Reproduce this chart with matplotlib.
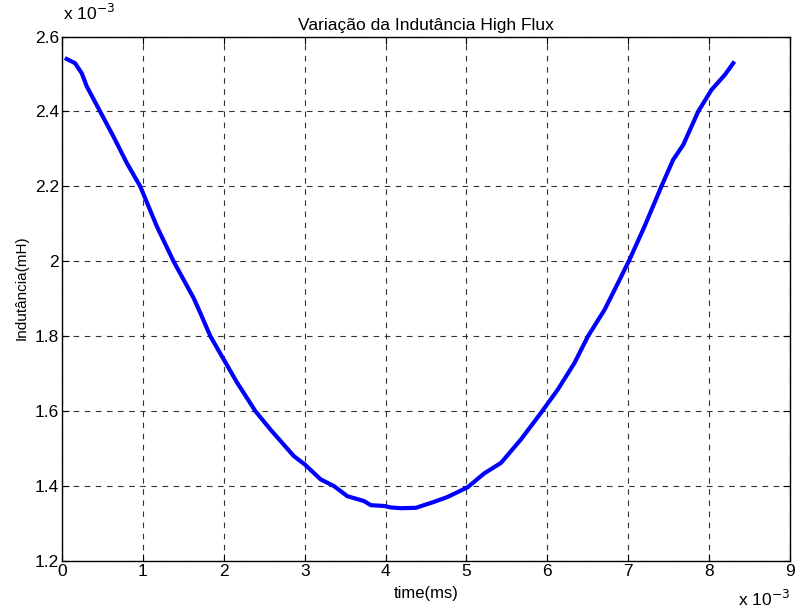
import matplotlib
matplotlib.use("Agg")
import matplotlib.pyplot as plt

plt.rcParams['font.family'] = ['Liberation Sans', 'DejaVu Sans']

# time in units of 1e-3 (x 10^-3), inductance in units of 1e-3
t_vals = [0.058, 0.161, 0.244, 0.306, 0.471, 0.636, 0.802, 0.967, 1.173, 1.379,
          1.627, 1.710, 1.834, 1.999, 2.165, 2.391, 2.577, 2.866, 3.000, 3.197,
          3.362, 3.528, 3.734, 3.817, 3.980, 4.065, 4.190, 4.374, 4.600, 4.767,
          5.015, 5.220, 5.427, 5.675, 5.923, 6.130, 6.336, 6.502, 6.708, 6.873,
          7.017, 7.203, 7.410, 7.555, 7.680, 7.865, 8.030, 8.195, 8.298]
L_vals = [2.540, 2.529, 2.502, 2.467, 2.400, 2.333, 2.262, 2.200, 2.093, 2.000,
          1.902, 1.862, 1.800, 1.738, 1.676, 1.600, 1.551, 1.480, 1.458, 1.418,
          1.400, 1.373, 1.360, 1.349, 1.347, 1.343, 1.341, 1.342, 1.358, 1.371,
          1.397, 1.434, 1.462, 1.525, 1.596, 1.658, 1.729, 1.800, 1.871, 1.942,
          2.005, 2.094, 2.200, 2.271, 2.311, 2.400, 2.458, 2.498, 2.529]
x_ticks = [0, 1, 2, 3, 4, 5, 6, 7, 8, 9]
y_ticks = [1.2, 1.4, 1.6, 1.8, 2.0, 2.2, 2.4, 2.6]
y_labels = ['1.2', '1.4', '1.6', '1.8', '2', '2.2', '2.4', '2.6']

fig = plt.figure(figsize=(7.96, 6.12), dpi=100)
ax = fig.add_axes([0.0779, 0.0833, 0.9146, 0.857])

ax.plot(t_vals, L_vals, color='#0000ff', linewidth=3, solid_joinstyle='round')

ax.set_xlim(0, 9)
ax.set_ylim(1.2, 2.6)
ax.set_xticks(x_ticks)
ax.set_xticklabels([str(v) for v in x_ticks])
ax.set_yticks(y_ticks)
ax.set_yticklabels(y_labels)
ax.tick_params(direction='in', length=5, width=0.8, labelsize=12.5,
               top=True, right=True, pad=2)
ax.grid(True, color='#333333', linestyle=(0, (5, 5)), linewidth=0.8)
for s in ax.spines.values():
    s.set_linewidth(1.0)

ax.set_title('Variação da Indutância High Flux', fontsize=12.5, pad=5)
ax.set_xlabel('time(ms)', fontsize=12)
ax.xaxis.set_label_coords(0.5, -0.047)
ax.set_ylabel('Indutância(mH)', fontsize=11)
ax.yaxis.set_label_coords(-0.046, 0.522)

fig.text(0.079, 0.962, r'x 10$^{-3}$', fontsize=12.5, ha='left', va='bottom')
fig.text(0.992, 0.005, r'x 10$^{-3}$', fontsize=12.5, ha='right', va='bottom')

fig.savefig('out.png', dpi=100)
